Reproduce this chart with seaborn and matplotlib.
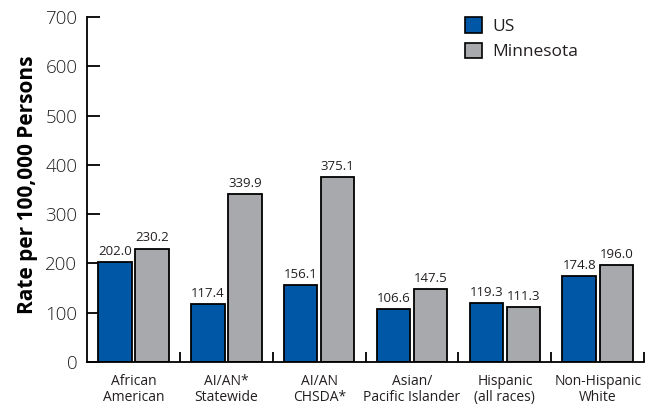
import matplotlib
matplotlib.use("Agg")
import matplotlib.pyplot as plt
import seaborn as sns
import pandas as pd
from matplotlib.ticker import FixedLocator
from matplotlib.patches import Patch

categories = ["African\nAmerican", "AI/AN*\nStatewide", "AI/AN\nCHSDA*",
              "Asian/\nPacific Islander", "Hispanic\n(all races)", "Non-Hispanic\nWhite"]
us_values = [202.0, 117.4, 156.1, 106.6, 119.3, 174.8]
mn_values = [230.2, 339.9, 375.1, 147.5, 111.3, 196.0]
series = ["US", "Minnesota"]
colors = ["#0057A6", "#A7A9AC"]
yticks = [0, 100, 200, 300, 400, 500, 600, 700]

df = pd.DataFrame({
    "category": categories * 2,
    "series": [series[0]] * len(categories) + [series[1]] * len(categories),
    "value": us_values + mn_values,
})

sns.set_theme(style="ticks")
plt.rcParams["font.family"] = ["Open Sans", "DejaVu Sans"]
txt = "#231F20"

fig = plt.figure(figsize=(6.5, 4.08), dpi=100)
ax = fig.add_axes([0.134, 0.113, 0.857, 0.845])

sns.barplot(data=df, x="category", y="value", hue="series", order=categories,
            hue_order=series, palette=colors, width=0.8, gap=0.1,
            edgecolor="black", linewidth=1.3, ax=ax, legend=False, saturation=1)

for cont in ax.containers:
    ax.bar_label(cont, fmt="%.1f", padding=3, fontsize=9.5, color=txt)

ax.set_xlim(-0.5, 5.5)
ax.set_ylim(0, 700)
ax.set_yticks(yticks)
ax.set_yticklabels([str(v) for v in yticks], fontsize=13.5, color=txt, fontweight="light")
ax.tick_params(axis="y", direction="in", length=9.5, width=1.3, pad=7, color="black")
ax.tick_params(axis="x", which="major", length=0, pad=9)
ax.xaxis.set_minor_locator(FixedLocator([0.5, 1.5, 2.5, 3.5, 4.5, 5.5]))
ax.tick_params(axis="x", which="minor", direction="in", length=7, width=1.3, color="black")
for lbl in ax.get_xticklabels():
    lbl.set_fontsize(10)
    lbl.set_color(txt)
    lbl.set_linespacing(1.1)

ax.set_xlabel("")
ax.set_ylabel("Rate per 100,000 Persons", fontsize=15, fontweight="bold", labelpad=5, color="black")
ax.yaxis.label.set_y(0.515)

for s in ["top", "right"]:
    ax.spines[s].set_visible(False)
for s in ["left", "bottom"]:
    ax.spines[s].set_linewidth(1.3)
    ax.spines[s].set_color("black")

handles = [Patch(facecolor=c, edgecolor="black", linewidth=1.2, label=l) for c, l in zip(colors, series)]
ax.legend(handles=handles, loc="upper left", bbox_to_anchor=(0.65, 1.045), frameon=False,
          fontsize=12.5, handlelength=1.0, handleheight=1.0, handletextpad=0.6, labelspacing=0.45,
          labelcolor=txt)

fig.savefig("out.png", dpi=100)
